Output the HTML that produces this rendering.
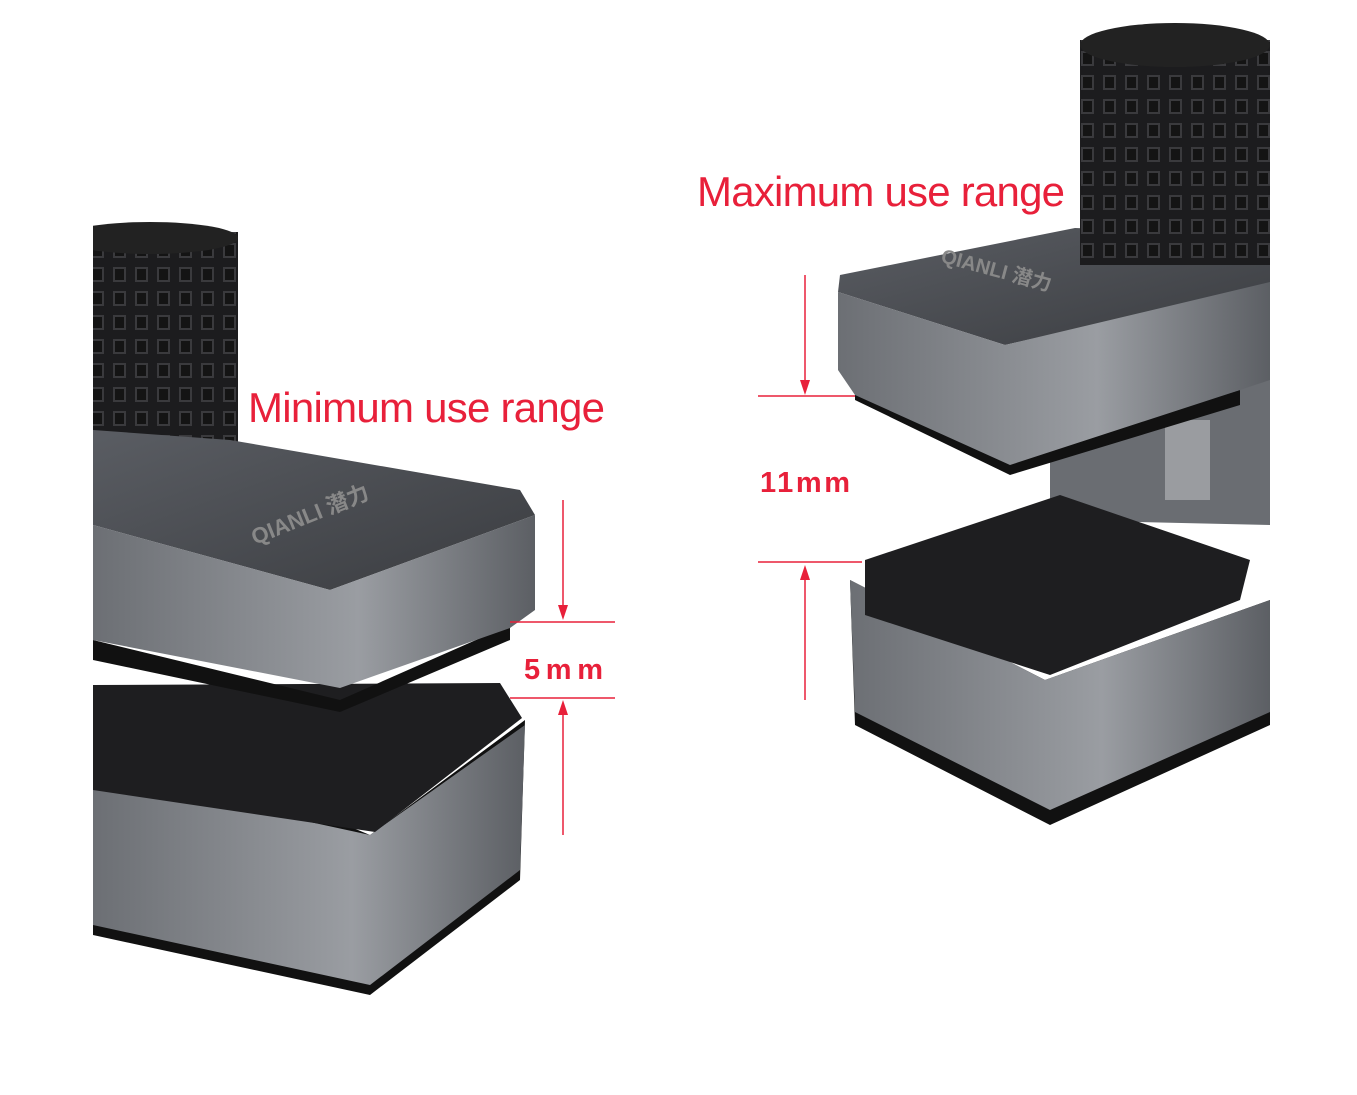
<!DOCTYPE html>
<html><head><meta charset="utf-8"><style>
html,body{margin:0;padding:0;background:#fff;width:1357px;height:1095px;overflow:hidden}
svg{display:block}
</style></head><body>
<svg width="1357" height="1095" viewBox="0 0 1357 1095" xmlns="http://www.w3.org/2000/svg">
<defs>
<linearGradient id="g1" x1="0" y1="0" x2="1" y2="1"><stop offset="0" stop-color="#5a5d63"/><stop offset="1" stop-color="#3a3c40"/></linearGradient>
<linearGradient id="g3" x1="0" y1="0" x2="1" y2="0"><stop offset="0" stop-color="#6c6f74"/><stop offset="0.6" stop-color="#9a9da2"/><stop offset="1" stop-color="#5c5f64"/></linearGradient>
<pattern id="kn" width="22" height="24" patternUnits="userSpaceOnUse"><rect width="22" height="24" fill="#1c1c1e"/><rect x="3" y="3" width="13" height="15" fill="#3a3a3d"/><rect x="5" y="5" width="9" height="11" fill="#141414"/></pattern>
<clipPath id="cl"><rect x="93" y="0" width="1177" height="1095"/></clipPath>
</defs>
<g clip-path="url(#cl)">
<!-- LEFT CLAMP -->
<rect x="93" y="232" width="145" height="262" fill="url(#kn)"/>
<ellipse cx="150" cy="238" rx="88" ry="16" fill="#222"/>
<polygon points="93,720 370,835 525,720 520,880 370,995 93,935" fill="#111"/>
<polygon points="93,775 370,835 525,725 520,870 370,985 93,925" fill="url(#g3)"/>
<polygon points="93,685 500,683 522,718 375,832 93,790" fill="#1e1e20"/>
<polygon points="93,640 340,700 510,625 510,640 340,712 93,660" fill="#111"/>
<polygon points="93,430 230,440 520,490 535,515 330,590 93,525" fill="url(#g1)"/>
<polygon points="93,525 330,590 535,515 535,610 510,628 340,688 93,640" fill="url(#g3)"/>
<text x="255" y="545" transform="rotate(-22 255 545)" font-family="Liberation Sans, 'Noto Sans CJK SC', sans-serif" font-size="22" fill="#888" font-weight="bold">QIANLI 潜力</text>
<!-- RIGHT CLAMP -->
<polygon points="1050,380 1270,370 1270,525 1050,520" fill="#6a6d72"/>
<rect x="1165" y="420" width="45" height="80" fill="#9a9ca0"/>
<polygon points="850,580 1045,680 1270,600 1270,725 1050,825 855,725" fill="#111"/>
<polygon points="850,580 1045,680 1270,600 1270,712 1050,810 855,712" fill="url(#g3)"/>
<polygon points="865,560 1060,495 1250,560 1240,600 1050,675 865,615" fill="#1e1e20"/>
<polygon points="855,385 1010,460 1240,390 1240,405 1010,475 855,400" fill="#111"/>
<polygon points="840,275 1075,228 1270,235 1270,285 1005,345 838,292" fill="url(#g1)"/>
<polygon points="838,292 1005,345 1270,282 1270,380 1240,390 1010,465 855,395 838,370" fill="url(#g3)"/>
<text x="940" y="262" transform="rotate(15 940 262)" font-family="Liberation Sans, 'Noto Sans CJK SC', sans-serif" font-size="20" fill="#888" font-weight="bold">QIANLI 潜力</text>
<rect x="1080" y="40" width="190" height="225" fill="url(#kn)"/>
<ellipse cx="1175" cy="45" rx="95" ry="22" fill="#222"/>
</g>
<!-- annotations -->
<g stroke="#e8203a" stroke-width="1.5" fill="none">
<line x1="563" y1="500" x2="563" y2="615"/><line x1="510" y1="622" x2="615" y2="622"/>
<line x1="510" y1="698" x2="615" y2="698"/><line x1="563" y1="710" x2="563" y2="835"/>
<line x1="805" y1="275" x2="805" y2="388"/><line x1="758" y1="396" x2="855" y2="396"/>
<line x1="758" y1="562" x2="862" y2="562"/><line x1="805" y1="572" x2="805" y2="700"/>
</g>
<g fill="#e8203a">
<polygon points="558,605 568,605 563,620"/><polygon points="558,715 568,715 563,700"/>
<polygon points="800,380 810,380 805,395"/><polygon points="800,580 810,580 805,565"/>
</g>
<g font-family="Liberation Sans, sans-serif" fill="#e8203a">
<text x="248" y="422" font-size="42" textLength="357">Minimum use range</text>
<text x="697" y="206" font-size="42" textLength="368">Maximum use range</text>
<text x="524" y="679" font-size="29" font-weight="bold" textLength="79">5mm</text>
<text x="760" y="492" font-size="29" font-weight="bold" textLength="90">11mm</text>
</g>
</svg>
</body></html>
